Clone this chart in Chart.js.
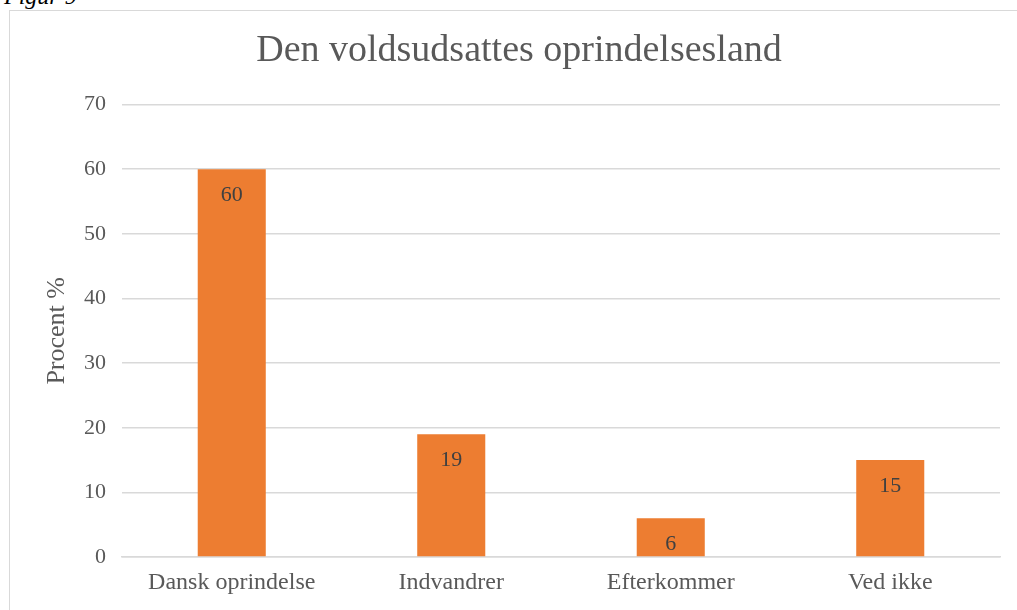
<!DOCTYPE html>
<html>
<head>
<meta charset="utf-8">
<script src="https://cdn.jsdelivr.net/npm/chart.js@4"></script>
<style>
  html, body { margin: 0; padding: 0; background: #fff; overflow: hidden; }
  #wrap { position: relative; width: 1017px; height: 610px; }
  #frame { position: absolute; left: 9px; top: 10px; width: 1100px; height: 700px; border: 1px solid #d9d9d9; }
  #fig { position: absolute; left: 4px; top: -17px; font: italic 24px "Liberation Serif", serif; color: #000; }
  canvas { position: absolute; left: 0; top: 0; }
</style>
</head>
<body>
<div id="wrap">
  <div id="frame"></div>
  <div id="fig">Figur 9</div>
  <canvas id="chart" width="1017" height="610"></canvas>
</div>
<script>
const categories = ['Dansk oprindelse', 'Indvandrer', 'Efterkommer', 'Ved ikke'];
const values = [60, 19, 6, 15];
const chartTitle = 'Den voldsudsattes oprindelsesland';
const yTitle = 'Procent %';

const serif = '"Liberation Serif", "DejaVu Serif", serif';

// value labels just below the top of each bar
const barLabels = {
  id: 'barLabels',
  afterDatasetsDraw(chart) {
    const ctx = chart.ctx;
    const meta = chart.getDatasetMeta(0);
    ctx.save();
    ctx.font = '22px ' + serif;
    ctx.fillStyle = '#404040';
    ctx.textAlign = 'center';
    ctx.textBaseline = 'middle';
    meta.data.forEach((bar, i) => {
      ctx.fillText(values[i], bar.x, bar.y + 26);
    });
    ctx.restore();
  }
};

new Chart(document.getElementById('chart'), {
  type: 'bar',
  data: {
    labels: categories,
    datasets: [{
      data: values,
      backgroundColor: '#ED7D31',
      barPercentage: 0.31,
      categoryPercentage: 1
    }]
  },
  options: {
    responsive: false,
    animation: false,
    layout: { padding: { left: 38, right: 17, top: 28, bottom: 0 } },
    plugins: {
      legend: { display: false },
      tooltip: { enabled: false },
      title: {
        display: true,
        text: chartTitle,
        color: '#595959',
        font: { family: serif, size: 38, weight: 'normal' },
        padding: { top: 0, bottom: 31 }
      }
    },
    scales: {
      x: {
        afterFit(scale) { scale.height = 53; },
        grid: { display: false, drawTicks: false },
        border: { color: '#d9d9d9', width: 1.5 },
        ticks: { color: '#595959', font: { family: serif, size: 24 }, padding: 11 }
      },
      y: {
        min: 0,
        max: 70,
        afterFit(scale) { scale.width = 84; },
        border: { display: false },
        grid: { color: '#d9d9d9', lineWidth: 1.5, drawTicks: false },
        ticks: { stepSize: 10, color: '#595959', font: { family: serif, size: 22 }, padding: 16 },
        title: {
          display: true,
          text: yTitle,
          color: '#595959',
          font: { family: serif, size: 26 },
          padding: { top: 4, bottom: 0 }
        }
      }
    }
  },
  plugins: [barLabels]
});
</script>
</body>
</html>
